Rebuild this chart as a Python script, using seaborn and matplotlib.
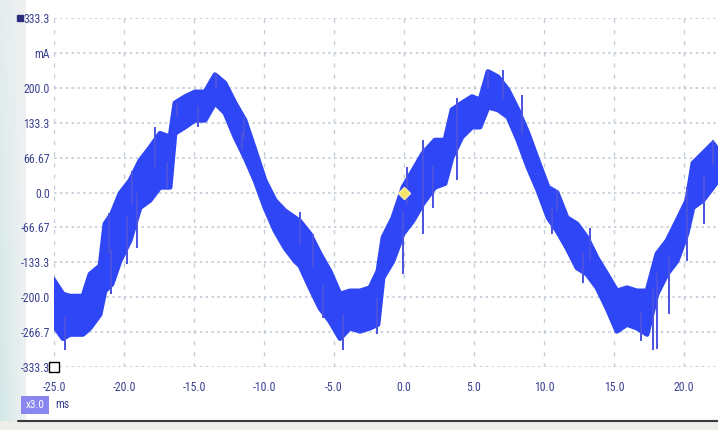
import numpy as np
import pandas as pd
import seaborn as sns
import matplotlib.pyplot as plt
from matplotlib import font_manager

# waveform envelope (time in ms, current in mA)
t_ms = [-25.07, -24.36, -23.86, -22.93, -22.43, -21.71, -21.36, -20.86, -20.29, -19.57,
        -18.86, -18.14, -17.43, -16.71, -16.36, -15.64, -14.93, -14.21, -13.5, -12.79,
        -12.07, -11.36, -10.64, -9.93, -9.21, -8.5, -7.79, -7.43, -6.71, -6.0,
        -5.29, -4.57, -3.86, -3.14, -2.43, -1.86, -1.5, -0.79, -0.07, 0.64,
        1.36, 2.21, 2.93, 3.43, 4.14, 4.86, 5.43, 6.0, 6.71, 7.43,
        8.14, 8.86, 9.57, 10.29, 10.93, 11.64, 12.36, 13.07, 13.79, 14.5,
        15.21, 15.93, 16.64, 17.36, 18.07, 18.79, 19.5, 20.21, 20.64, 21.36,
        22.07, 22.43]
upper = [-165, -194, -198, -198, -156, -140, -60, -40, -2, 23,
         61, 86, 113, 106, 171, 183, 192, 192, 225, 209,
         171, 138, 81, 23, -15, -35, -48, -55, -79, -117,
         -150, -194, -188, -188, -182, -150, -86, -48, 10, 42,
         75, 100, 100, 158, 171, 183, 177, 231, 221, 196,
         158, 113, 61, 10, 0, -48, -60, -86, -125, -156,
         -188, -182, -188, -188, -117, -92, -54, -15, 56, 75,
         94, 81]
lower = [-252, -279, -271, -271, -259, -233, -188, -175, -131, -92,
         -29, -15, 10, 10, 113, 125, 138, 138, 171, 152,
         106, 67, 23, -29, -73, -106, -131, -140, -182, -221,
         -246, -279, -259, -265, -259, -252, -163, -131, -79, -54,
         -21, 10, 17, 67, 106, 125, 125, 163, 158, 144,
         100, 48, 4, -48, -73, -106, -144, -156, -182, -221,
         -265, -252, -259, -271, -194, -156, -131, -79, -29, -15,
         10, 23]

# noise spikes sticking out of the band
spike_t = [-24.2, -20.9, -19.8, -19.1, -16.9, -21.1, -19.4, -17.8, -16.2, -13.4,
           -14.7, -11.4, -11.6, -4.35, -5.8, -1.9, -0.07, 1.36, 0.2, 1.36,
           -7.43, -6.5, 3.8, 6.0, 7.1, 8.4, 2.07, 3.8, 10.6, 17.8,
           18.1, 16.9, 12.8, 18.9, 20.2, 21.4, 20.2, 22.1, 13.3, 10.9]
spike_v = [-300, -194, -136, -106, 8, -40, 42, 125, 171, 228,
           125, 144, 81, -300, -240, -271, -156, -79, 48, 100,
           -38, -79, 180, 234, 234, 186, -29, 23, -79, -300,
           -298, -284, -173, -233, -131, -60, 10, 100, -67, 4]

y_ticks = [333.3, 266.7, 200.0, 133.3, 66.67, 0.0, -66.67, -133.3, -200.0, -266.7, -333.3]
y_labels = ['333.3', 'mA', '200.0', '133.3', '66.67', '0.0', '-66.67', '-133.3', '-200.0', '-266.7', '-333.3']
x_ticks = [-25.0, -20.0, -15.0, -10.0, -5.0, 0.0, 5.0, 10.0, 15.0, 20.0]
x_labels = ['-25.0', '-20.0', '-15.0', '-10.0', '-5.0', '0.0', '5.0', '10.0', '15.0', '20.0']

sns.set_style('white')
names = {f.name for f in font_manager.fontManager.ttflist}
font = next((n for n in ['Liberation Sans Narrow', 'DejaVu Sans Condensed', 'Roboto Condensed', 'Liberation Sans']
             if n in names), 'DejaVu Sans')
plt.rcParams['font.family'] = [font, 'DejaVu Sans']

navy = '#3a4090'
trace = '#2e46f5'

df = pd.DataFrame({'t': t_ms, 'upper': upper, 'lower': lower})

fig = plt.figure(figsize=(7.18, 4.30), dpi=100)

# light teal wash down the left edge, stronger towards the bottom
bg = fig.add_axes([0, 0, 0.035, 1])
gx = np.linspace(1, 0, 40)
gy = np.linspace(0.35, 1, 60).reshape(-1, 1)
bg.imshow(gy * gx, cmap=sns.light_palette('#cfe6e6', as_cmap=True),
          aspect='auto', extent=[0, 1, 0, 1], vmin=0, vmax=1.1, origin='upper')
bg.axis('off')

ax = fig.add_axes([54 / 718, 1 - 367 / 430, 664 / 718, 349 / 430])
ax.set_facecolor('white')

ax.fill_between(df['t'], df['lower'], df['upper'], color=trace, linewidth=0, zorder=3)
sns.lineplot(data=df, x='t', y='upper', ax=ax, color=trace, linewidth=3.5, zorder=3)
sns.lineplot(data=df, x='t', y='lower', ax=ax, color=trace, linewidth=3.5, zorder=3)
mid = (np.array(upper) + np.array(lower)) / 2
base = np.interp(spike_t, t_ms, mid)
ax.vlines(spike_t, base, spike_v, color='#4a52e0', linewidth=1.4, zorder=3)

ax.plot([0], [0], marker='D', markersize=6, color='#f2e46a', markeredgecolor='#f8f0a8', zorder=5)
ax.plot([-25], [-333.3], marker='s', markersize=7, markerfacecolor='white',
        markeredgecolor='black', markeredgewidth=1, clip_on=False, zorder=6)

ax.set_xlim(-25, 22.43)
ax.set_ylim(-333.3, 333.3)
ax.set_xticks(x_ticks)
ax.set_xticklabels(x_labels)
ax.set_yticks(y_ticks)
ax.set_yticklabels(y_labels)
ax.tick_params(axis='both', length=0, labelsize=8.5, labelcolor=navy)
ax.tick_params(axis='y', pad=3)
ax.tick_params(axis='x', pad=10)
ax.set_xlabel('')
ax.set_ylabel('')
for s in ax.spines.values():
    s.set_visible(False)
ax.xaxis.grid(True, color='#c2ccd8', linestyle=(0, (3, 5)), linewidth=1)
ax.yaxis.grid(True, color='#c2ccd8', linestyle=(0, (1.5, 2)), linewidth=1.2)
ax.set_axisbelow(True)

# blue channel square next to the top label (a marker, not text)
fig.add_artist(plt.Line2D([20 / 718], [1 - 18 / 430], transform=fig.transFigure, marker='s',
                          markersize=5, color='#2a2f80', linestyle='none'))

# time unit box
fig.text(35 / 718, 1 - 405 / 430, 'x3.0', color='white', fontsize=8, ha='center', va='center',
         bbox=dict(boxstyle='square,pad=0.4', facecolor='#8a86f0', edgecolor='none'))
fig.text(55 / 718, 1 - 405 / 430, 'ms', color=navy, fontsize=8.5, ha='left', va='center')

# bottom separator and status strip
fig.add_artist(plt.Rectangle((0, 0), 1, 9 / 430, transform=fig.transFigure,
                             facecolor='#efede8', edgecolor='none'))
fig.add_artist(plt.Line2D([18 / 718, 1], [1 - 421 / 430] * 2, transform=fig.transFigure,
                          color='#3a3a3a', linewidth=1.5))

fig.savefig('out.png', dpi=100)
